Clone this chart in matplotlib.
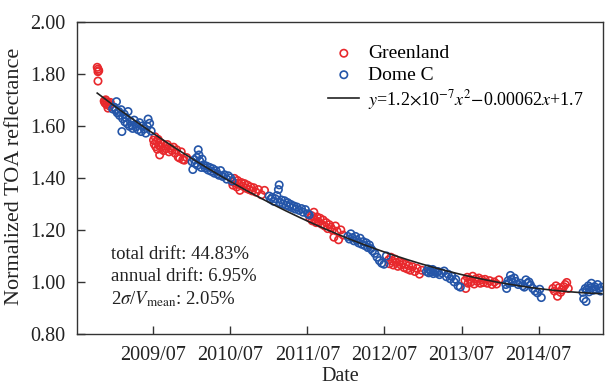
import numpy as np
import matplotlib
matplotlib.use("Agg")
import matplotlib.pyplot as plt

# campaign samples, decimal year / normalized TOA reflectance
g1_t = [2008.77, 2008.78, 2008.78, 2008.79, 2008.78]
g1_v = [1.825, 1.818, 1.808, 1.812, 1.772]
g2_t = [2008.86, 2008.87, 2008.88, 2008.89, 2008.90, 2008.91, 2008.92, 2008.93, 2008.94]
g2_v = [1.695, 1.688, 1.700, 1.682, 1.692, 1.668, 1.685, 1.676, 1.690]
g3_t = [2009.50, 2009.51, 2009.52, 2009.53, 2009.54, 2009.55, 2009.56, 2009.57, 2009.58, 2009.59,
        2009.60, 2009.62, 2009.63, 2009.65, 2009.66, 2009.68, 2009.70, 2009.72, 2009.74, 2009.76,
        2009.78, 2009.80, 2009.82, 2009.84, 2009.86, 2009.88, 2009.90, 2009.93]
g3_v = [1.545, 1.530, 1.558, 1.520, 1.540, 1.510, 1.548, 1.525, 1.488, 1.535,
        1.518, 1.530, 1.505, 1.522, 1.512, 1.528, 1.500, 1.515, 1.505, 1.518,
        1.495, 1.508, 1.480, 1.476, 1.500, 1.470, 1.468, 1.478]
g4_t = [2010.52, 2010.53, 2010.55, 2010.56, 2010.58, 2010.59, 2010.61, 2010.62, 2010.64, 2010.66,
        2010.68, 2010.70, 2010.72, 2010.74, 2010.76, 2010.78, 2010.80, 2010.83, 2010.86, 2010.90, 2010.94]
g4_v = [1.385, 1.372, 1.398, 1.380, 1.365, 1.390, 1.375, 1.352, 1.382, 1.368,
        1.378, 1.360, 1.372, 1.355, 1.365, 1.350, 1.362, 1.345, 1.355, 1.335, 1.352]
g5_t = [2011.53, 2011.55, 2011.56, 2011.58, 2011.59, 2011.61, 2011.62, 2011.64, 2011.66, 2011.68,
        2011.70, 2011.72, 2011.74, 2011.76, 2011.78, 2011.80, 2011.82, 2011.84, 2011.86, 2011.88,
        2011.90, 2011.93, 2011.96]
g5_v = [1.245, 1.255, 1.235, 1.268, 1.240, 1.228, 1.250, 1.232, 1.245, 1.222,
        1.238, 1.215, 1.228, 1.205, 1.220, 1.210, 1.200, 1.172, 1.215, 1.195,
        1.162, 1.200, 1.180]
g6_t = [2012.55, 2012.56, 2012.58, 2012.60, 2012.61, 2012.63, 2012.65, 2012.67, 2012.69, 2012.71,
        2012.73, 2012.75, 2012.77, 2012.79, 2012.81, 2012.83, 2012.86, 2012.89, 2012.92, 2012.95, 2012.98]
g6_v = [1.085, 1.070, 1.095, 1.080, 1.065, 1.088, 1.075, 1.060, 1.078, 1.065,
        1.072, 1.055, 1.068, 1.050, 1.062, 1.045, 1.058, 1.040, 1.052, 1.030, 1.045]
g7_t = [2013.54, 2013.55, 2013.57, 2013.58, 2013.60, 2013.62, 2013.64, 2013.66, 2013.68, 2013.70,
        2013.72, 2013.74, 2013.76, 2013.78, 2013.80, 2013.83, 2013.86, 2013.89, 2013.92, 2013.95, 2013.98]
g7_v = [1.005, 0.975, 1.018, 0.995, 1.010, 1.000, 1.022, 0.992, 1.012, 1.002,
        1.015, 0.995, 1.008, 0.998, 1.010, 0.995, 1.005, 0.990, 1.000, 0.992, 1.008]
g8_t = [2014.68, 2014.70, 2014.72, 2014.74, 2014.76, 2014.78, 2014.80, 2014.82, 2014.84, 2014.86, 2014.88]
g8_v = [0.975, 0.965, 0.985, 0.945, 0.978, 0.960, 0.970, 0.982, 0.990, 0.998, 0.975]

d1_t = [2008.97, 2008.99, 2009.01, 2009.02, 2009.03, 2009.05, 2009.06, 2009.08, 2009.09, 2009.10,
        2009.12, 2009.13, 2009.14, 2009.16, 2009.17, 2009.19, 2009.20, 2009.22, 2009.23, 2009.25,
        2009.27, 2009.28, 2009.30, 2009.32, 2009.34, 2009.36, 2009.38, 2009.40, 2009.42, 2009.43,
        2009.45, 2009.47]
d1_v = [1.665, 1.672, 1.660, 1.693, 1.650, 1.655, 1.640, 1.662, 1.578, 1.628,
        1.645, 1.615, 1.632, 1.608, 1.655, 1.598, 1.618, 1.602, 1.590, 1.622,
        1.595, 1.606, 1.585, 1.612, 1.578, 1.600, 1.588, 1.572, 1.598, 1.626,
        1.610, 1.580]
d2_t = [2010.00, 2010.01, 2010.03, 2010.04, 2010.06, 2010.07, 2010.08, 2010.09, 2010.10, 2010.12,
        2010.13, 2010.15, 2010.17, 2010.19, 2010.21, 2010.23, 2010.25, 2010.27, 2010.29, 2010.31,
        2010.33, 2010.35, 2010.37, 2010.40, 2010.42, 2010.45, 2010.47, 2010.50, 2010.52]
d2_v = [1.462, 1.432, 1.470, 1.455, 1.478, 1.448, 1.508, 1.488, 1.465, 1.440,
        1.472, 1.450, 1.438, 1.445, 1.430, 1.440, 1.425, 1.435, 1.418, 1.428,
        1.415, 1.410, 1.428, 1.405, 1.412, 1.395, 1.408, 1.400, 1.388]
d3_t = [2011.00, 2011.02, 2011.04, 2011.06, 2011.08, 2011.10, 2011.12, 2011.13, 2011.14, 2011.16,
        2011.18, 2011.20, 2011.22, 2011.24, 2011.26, 2011.28, 2011.30, 2011.32, 2011.34, 2011.36,
        2011.39, 2011.42, 2011.44, 2011.47, 2011.50, 2011.52]
d3_v = [1.330, 1.318, 1.325, 1.310, 1.320, 1.332, 1.355, 1.373, 1.305, 1.315,
        1.300, 1.312, 1.295, 1.305, 1.290, 1.298, 1.285, 1.292, 1.280, 1.288,
        1.275, 1.282, 1.268, 1.278, 1.262, 1.258]
d4_t = [2012.02, 2012.04, 2012.06, 2012.08, 2012.10, 2012.12, 2012.14, 2012.16, 2012.18, 2012.20,
        2012.22, 2012.24, 2012.26, 2012.28, 2012.30, 2012.32, 2012.34, 2012.37, 2012.40, 2012.43,
        2012.46, 2012.49, 2012.52]
d4_v = [1.175, 1.165, 1.185, 1.170, 1.158, 1.175, 1.160, 1.150, 1.168, 1.145,
        1.155, 1.140, 1.150, 1.132, 1.142, 1.128, 1.120, 1.110, 1.095, 1.082,
        1.072, 1.068, 1.100]
d5_t = [2013.04, 2013.06, 2013.07, 2013.09, 2013.10, 2013.12, 2013.13, 2013.15, 2013.17, 2013.19,
        2013.21, 2013.24, 2013.27, 2013.30, 2013.32, 2013.35, 2013.37, 2013.40, 2013.42, 2013.45, 2013.48]
d5_v = [1.040, 1.050, 1.035, 1.045, 1.038, 1.048, 1.032, 1.042, 1.035, 1.040,
        1.028, 1.035, 1.042, 1.020, 1.030, 1.012, 1.022, 1.000, 1.010, 0.985, 0.980]
d6_t = [2014.07, 2014.08, 2014.10, 2014.11, 2014.13, 2014.14, 2014.16, 2014.18, 2014.20, 2014.23,
        2014.26, 2014.29, 2014.31, 2014.33, 2014.35, 2014.37, 2014.39, 2014.42, 2014.45, 2014.48,
        2014.51, 2014.53]
d6_v = [0.990, 0.975, 1.005, 0.995, 1.025, 1.010, 0.998, 1.015, 1.002, 0.990,
        0.995, 0.985, 0.980, 1.008, 0.995, 1.000, 0.988, 0.975, 0.965, 0.958,
        0.972, 0.940]
d7_t = [2015.07, 2015.08, 2015.10, 2015.11, 2015.12, 2015.14, 2015.15, 2015.17, 2015.18, 2015.20,
        2015.22, 2015.24, 2015.26, 2015.28, 2015.30, 2015.31]
d7_v = [0.960, 0.935, 0.975, 0.925, 0.970, 0.985, 0.962, 0.978, 0.995, 0.968,
        0.982, 0.972, 0.990, 0.975, 0.965, 0.980]

tick_years = [2009, 2010, 2011, 2012, 2013, 2014]
fit_label = r'$y$=1.2$\times$10$^{-7}$$x^2$$-$0.00062$x$+1.7'
stats = ['total drift: 44.83%', 'annual drift: 6.95%', r'2$\sigma$/$V_{\rm mean}$: 2.05%']

gl_t = np.array(g1_t + g2_t + g3_t + g4_t + g5_t + g6_t + g7_t + g8_t)
gl_v = np.array(g1_v + g2_v + g3_v + g4_v + g5_v + g6_v + g7_v + g8_v)
dc_t = np.array(d1_t + d2_t + d3_t + d4_t + d5_t + d6_t + d7_t)
dc_v = np.array(d1_v + d2_v + d3_v + d4_v + d5_v + d6_v + d7_v)

plt.rcParams['font.family'] = 'Liberation Serif'
plt.rcParams['mathtext.fontset'] = 'stix'
plt.rcParams['font.size'] = 14

fig = plt.figure(figsize=(6.1, 3.85), dpi=100)
ax = fig.add_axes([0.126, 0.1325, 0.8625, 0.811])

red = '#e8282c'
blue = '#2455a8'
ax.scatter(gl_t, gl_v, s=28, facecolors='none', edgecolors=red, linewidths=1.2, label='Greenland', zorder=2)
ax.scatter(dc_t, dc_v, s=28, facecolors='none', edgecolors=blue, linewidths=1.2, label='Dome C', zorder=2)

# quadratic fit in days
all_t = np.concatenate([gl_t, dc_t])
all_v = np.concatenate([gl_v, dc_v])
t0 = all_t.min()
coef = np.polyfit((all_t - t0) * 365.25, all_v, 2)
tt = np.linspace(t0, all_t.max(), 300)
ax.plot(tt, np.polyval(coef, (tt - t0) * 365.25), color='#222222', lw=1.2, label=fit_label, zorder=3)

ax.set_xlim(2008.506, 2015.33)
ax.set_ylim(0.80, 2.00)
ax.set_xticks([y + 0.496 for y in tick_years])
ax.set_xticklabels(['%d/07' % y for y in tick_years])
ax.set_yticks(np.arange(0.8, 2.01, 0.2))
ax.set_yticklabels(['%.2f' % v for v in np.arange(0.8, 2.01, 0.2)])
ax.tick_params(direction='in', length=6, width=1, colors='#333333', labelcolor='#222222',
               labelsize=14.5)
ax.tick_params(axis='x', pad=9)
ax.tick_params(axis='y', pad=8)
for sp in ax.spines.values():
    sp.set_color('#333333')
    sp.set_linewidth(1.0)

ax.set_xlabel('Date', labelpad=1, color='#222222', fontsize=14.5)
ax.set_ylabel('Normalized TOA reflectance', color='#222222', fontsize=16)
ax.yaxis.set_label_coords(-0.10, 0.506)

leg = ax.legend(loc='upper left', bbox_to_anchor=(0.452, 0.97), frameon=False, scatterpoints=1,
                handlelength=1.6, handletextpad=0.45, labelspacing=0.2, borderpad=0.2)
leg.get_texts()[2].set_fontsize(13)

for s, yy in zip(stats, [0.240, 0.170, 0.096]):
    ax.text(0.065, yy, s, transform=ax.transAxes, ha='left', va='baseline',
            fontsize=13.5, color='#222222')

fig.savefig('out.png', dpi=100)
